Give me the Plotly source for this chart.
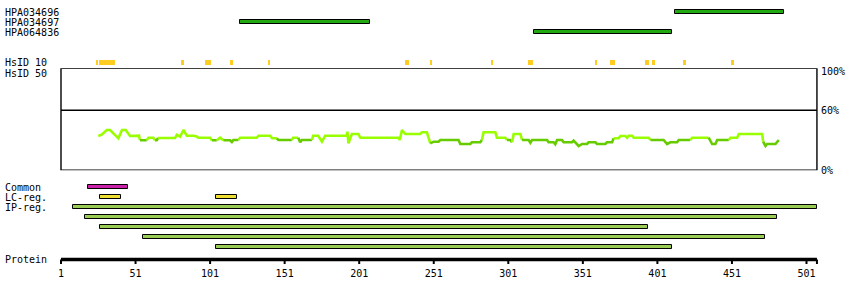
import plotly.graph_objects as go

# ---------------- data ----------------
protein_length = 508
tick_values = [1, 51, 101, 151, 201, 251, 301, 351, 401, 451, 501]
tick_labels = [str(v) for v in tick_values]

antibody_names = ["HPA034696", "HPA034697", "HPA064836"]
antibody_start = [413, 121, 318]
antibody_end = [486, 208, 411]

hsid10_start = [25, 27, 82, 98, 115, 141, 232, 249, 290, 315, 360, 370, 393, 398, 419, 451]
hsid10_end = [25, 37, 83, 101, 116, 141, 234, 249, 290, 317, 360, 372, 395, 399, 420, 452]

common_start = [19]
common_end = [46]
lc_start = [27, 105]
lc_end = [41, 119]
ip_start = [9, 17, 27, 56, 105]
ip_end = [508, 481, 395, 473, 411]

# identity profile (residue, percent)
ident_res = [26.0, 28.3, 31.7, 33.9, 39.5, 41.9, 44.4, 47.3, 53.3, 54.0, 58.5, 59.6, 62.9, 64.1, 65.2,
             66.1, 77.5, 78.7, 80.9, 83.1, 85.4, 89.8, 92.1, 93.0, 101.0, 102.1, 105.5, 107.7, 109.9,
             114.4, 115.6, 116.6, 120.0, 121.1, 132.3, 133.4, 141.3, 142.6, 145.8, 146.8, 155.8, 156.7,
             160.1, 161.4, 162.5, 169.3, 170.1, 173.5, 176.0, 178.2, 192.7, 193.1, 193.8, 196.1, 200.5,
             201.7, 227.4, 228.2, 229.7, 231.9, 241.9, 243.1, 246.4, 248.7, 250.9, 254.2, 255.4, 267.6,
             268.8, 275.5, 276.6, 282.2, 283.3, 284.4, 292.3, 293.4, 299.0, 300.1, 302.3, 303.5, 304.6,
             309.1, 310.2, 314.6, 315.8, 316.9, 327.0, 328.0, 331.4, 332.5, 333.7, 337.0, 338.1, 343.7,
             344.8, 348.2, 350.5, 353.8, 354.9, 359.4, 360.5, 366.1, 367.2, 370.6, 371.7, 375.0, 376.2,
             379.5, 380.7, 381.7, 384.0, 385.1, 395.2, 396.3, 405.2, 407.5, 409.7, 414.2, 415.3, 423.1,
             424.3, 435.4, 436.6, 437.7, 439.9, 441.1, 448.9, 450.0, 454.5, 455.6, 471.3, 471.9, 473.5,
             474.6, 480.2, 482.4]
ident_pct = [34.3, 35.6, 40.3, 40.3, 32.0, 40.3, 40.3, 34.3, 34.6, 30.0, 30.0, 32.6, 32.6, 30.0, 30.0,
             32.3, 32.3, 35.6, 33.6, 40.3, 34.6, 34.6, 33.8, 32.6, 32.6, 30.0, 30.0, 32.6, 30.0,
             30.0, 28.3, 30.3, 30.3, 32.6, 32.6, 34.6, 34.6, 32.0, 32.0, 30.3, 30.3, 32.6,
             32.6, 28.0, 30.3, 30.3, 34.6, 34.6, 28.6, 34.6, 34.6, 38.6, 27.0, 36.3, 36.3,
             32.6, 32.6, 30.3, 40.3, 36.3, 36.3, 38.0, 38.0, 27.0, 28.6, 28.6, 30.3, 30.3,
             26.3, 26.3, 28.0, 28.0, 30.3, 38.0, 38.0, 32.6, 32.6, 30.3, 30.3, 28.0, 36.3,
             36.3, 30.3, 30.3, 27.6, 30.3, 30.3, 28.0, 28.0, 26.0, 30.3, 30.3, 28.0, 28.0,
             29.6, 24.3, 26.3, 26.3, 28.0, 28.0, 26.3, 26.3, 28.0, 28.0, 32.0, 32.0, 34.3,
             34.3, 32.6, 34.6, 34.6, 32.6, 32.6, 30.3, 30.3, 26.3, 28.0, 28.0, 30.3, 30.3,
             32.6, 32.6, 28.6, 26.3, 26.3, 30.3, 30.3, 32.6, 32.6, 36.3, 36.3, 28.6, 24.3,
             26.3, 26.3, 30.3]

# ---------------- styling / layout positions (pixels from top) ----------------
W, H = 850, 300
PX0, SLOPE = 61.0, 1.491          # pixel of residue 1, pixels per residue
XMIN = 1 - PX0 / SLOPE
XMAX = 1 + (W - PX0) / SLOPE
FONT = "DejaVu Sans Mono"
LIGHT, DARK = "#99ff00", "#66cc00"
THRESH = 31.2

ab_rows = [12.3, 22.3, 32.3]
hsid_row = 62.4
common_row, lc_row = 187.3, 197.3
ip_rows = [207.3, 217.3, 227.3, 237.3, 247.3]
axis_row = 259.5

fig = go.Figure()


def add_bars(starts, ends, rows, color, outline=True, width=4.2, pad=0.0):
    fig.add_trace(go.Bar(
        orientation="h",
        base=[s - pad for s in starts],
        x=[e - s + 2 * pad for s, e in zip(starts, ends)],
        y=rows,
        width=width,
        marker=dict(color=color,
                    line=dict(color="black", width=1 if outline else 0)),
        yaxis="y", xaxis="x", showlegend=False, hoverinfo="skip",
    ))


add_bars(antibody_start, antibody_end, ab_rows, "#22a810")
add_bars(hsid10_start, hsid10_end, [hsid_row] * len(hsid10_start), "#ffcc22",
         outline=False, width=4.6, pad=0.5)
add_bars(common_start, common_end, [common_row], "#cc22aa")
add_bars(lc_start, lc_end, [lc_row] * len(lc_start), "#eedd33")
add_bars(ip_start, ip_end, ip_rows, "#99cc55")

# identity line, coloured by level
runs = []
cur_color, cur_x, cur_y = None, [], []
for i in range(len(ident_res) - 1):
    mid = (ident_pct[i] + ident_pct[i + 1]) / 2
    c = LIGHT if mid >= THRESH else DARK
    if c != cur_color:
        if cur_color is not None:
            runs.append((cur_color, cur_x, cur_y))
        cur_color, cur_x, cur_y = c, [ident_res[i]], [ident_pct[i]]
    cur_x.append(ident_res[i + 1])
    cur_y.append(ident_pct[i + 1])
runs.append((cur_color, cur_x, cur_y))
for c, xs, ys in runs:
    fig.add_trace(go.Scatter(x=xs, y=ys, mode="lines", line=dict(color=c, width=2.6),
                             yaxis="y2", xaxis="x", showlegend=False, hoverinfo="skip"))

# identity box and 60% line
fig.add_shape(type="rect", xref="x", yref="y2", x0=1, x1=protein_length, y0=0, y1=102,
              line=dict(color="black", width=1.4), fillcolor="rgba(0,0,0,0)", layer="below")
fig.add_shape(type="line", xref="x", yref="y2", x0=1, x1=protein_length, y0=60, y1=60,
              line=dict(color="black", width=1.4), layer="below")

# protein axis
fig.add_trace(go.Scatter(x=[1, protein_length], y=[axis_row, axis_row], mode="lines",
                         line=dict(color="black", width=3.5), yaxis="y", xaxis="x",
                         showlegend=False, hoverinfo="skip"))
tx, ty = [], []
for v in tick_values + [protein_length]:
    tx += [v, v, None]
    ty += [axis_row, axis_row + 4.5, None]
fig.add_trace(go.Scatter(x=tx, y=ty, mode="lines", line=dict(color="black", width=2),
                         yaxis="y", xaxis="x", showlegend=False, hoverinfo="skip"))
fig.add_trace(go.Scatter(x=tick_values, y=[274] * len(tick_values), mode="text",
                         text=tick_labels, textposition="middle center",
                         textfont=dict(family=FONT, size=10, color="black"),
                         yaxis="y", xaxis="x", showlegend=False, hoverinfo="skip"))

# left labels
left_labels = antibody_names + ["HsID 10", "HsID 50", "Common", "LC-reg.", "IP-reg.", "Protein"]
left_rows = ab_rows + [62.3, 73.0, 187.0, 197.0, 207.0, 259.5]
for t, r in zip(left_labels, left_rows):
    fig.add_annotation(text=t, xref="paper", yref="y", x=2.5 / W, y=r, xanchor="left",
                       yanchor="middle", showarrow=False,
                       font=dict(family=FONT, size=10, color="black"))

# right percent labels
for t, v in zip(["100%", "60%", "0%"], [98.5, 60, 0]):
    fig.add_annotation(text=t, xref="x", yref="y2", x=protein_length, y=v, xanchor="left",
                       yanchor="middle", xshift=2, showarrow=False,
                       font=dict(family=FONT, size=10, color="black"))

fig.update_layout(
    width=W, height=H, margin=dict(l=0, r=0, t=0, b=0),
    paper_bgcolor="white", plot_bgcolor="white",
    barmode="overlay", bargap=0,
    xaxis=dict(range=[XMIN, XMAX], visible=False, fixedrange=True),
    yaxis=dict(range=[H, 0], domain=[0, 1], visible=False, fixedrange=True),
    yaxis2=dict(range=[0, 102], domain=[(H - 170.3) / H, (H - 68.3) / H], visible=False,
                anchor="x", fixedrange=True),
)

fig.write_html("out.html")
